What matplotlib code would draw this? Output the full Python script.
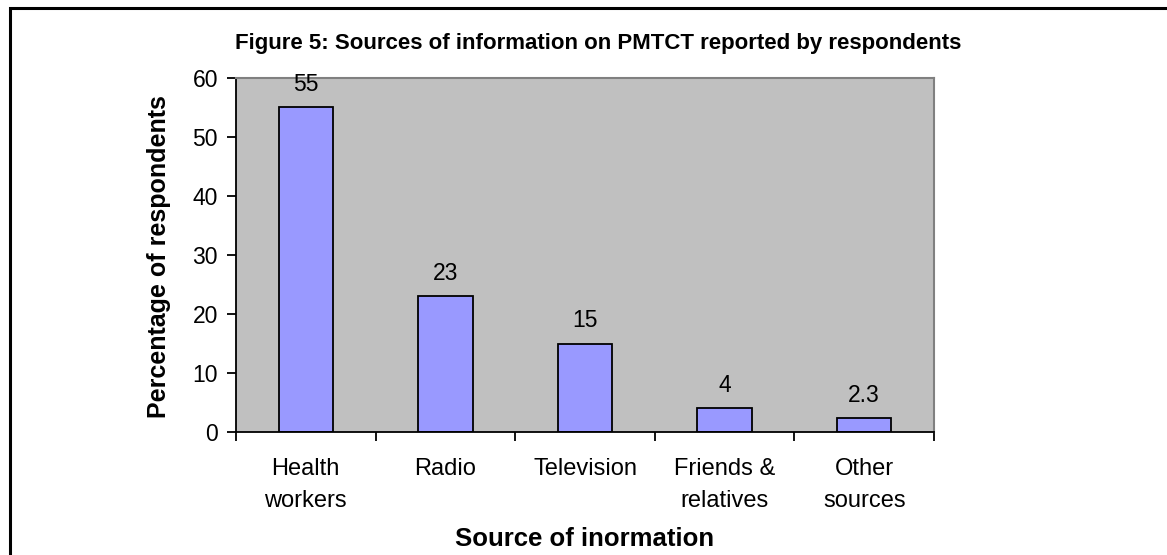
import matplotlib
matplotlib.use("Agg")
import matplotlib.pyplot as plt
from matplotlib.patches import Rectangle

plt.rcParams['font.family'] = ['Liberation Sans', 'DejaVu Sans']

categories = ["Health\nworkers", "Radio", "Television", "Friends &\nrelatives", "Other\nsources"]
values = [55, 23, 15, 4, 2.3]
value_labels = ["55", "23", "15", "4", "2.3"]
yticks = [0, 10, 20, 30, 40, 50, 60]

W, H = 1167, 555
fig = plt.figure(figsize=(W / 100, H / 100), dpi=100)
fig.patch.set_facecolor("white")

# outer frame (open on right and bottom)
fig.add_artist(Rectangle((9.5 / W, -0.2), 2.0, 1.2 - 7.5 / H, transform=fig.transFigure,
                         fill=False, edgecolor="black", linewidth=2.2))

ax = fig.add_axes([236 / W, (H - 432) / H, 698 / W, 354 / H])
ax.set_facecolor("#C0C0C0")

x = list(range(len(categories)))
ax.bar(x, values, width=0.39, color="#9999FF", edgecolor="black", linewidth=1.3, zorder=2)
for xi, v, lab in zip(x, values, value_labels):
    ax.annotate(lab, (xi, v), xytext=(0, 12), textcoords="offset points",
                ha="center", va="baseline", fontsize=16.5, clip_on=False, zorder=3)

ax.set_xlim(-0.5, len(categories) - 0.5)
ax.set_ylim(0, 60)
ax.set_yticks(yticks)
ax.set_yticklabels([str(t) for t in yticks], fontsize=16.5)

# category labels centred between boundary ticks
ax.set_xticks([i - 0.5 for i in range(len(categories) + 1)])
ax.set_xticklabels([""] * (len(categories) + 1))
ax.set_xticks(x, minor=True)
ax.set_xticklabels(categories, minor=True, fontsize=17, linespacing=1.55)
ax.tick_params(axis="x", which="major", direction="out", length=6.5, width=1.3, color="black")
ax.tick_params(axis="x", which="minor", length=0, pad=19)
ax.tick_params(axis="y", direction="out", length=6.5, width=1.3, color="black", pad=6.5)

for s in ("left", "bottom"):
    ax.spines[s].set_color("black")
    ax.spines[s].set_linewidth(1.3)
for s in ("top", "right"):
    ax.spines[s].set_color("#808080")
    ax.spines[s].set_linewidth(1.5)

fig.text(159 / W, 1 - 257 / H, "Percentage of respondents", rotation=90,
         ha="center", va="center", fontsize=18, fontweight="bold")
fig.text(585 / W, 1 - 546 / H, "Source of inormation",
         ha="center", va="baseline", fontsize=18.5, fontweight="bold")
fig.text(598 / W, 1 - 49 / H, "Figure 5: Sources of information on PMTCT reported by respondents",
         ha="center", va="baseline", fontsize=16, fontweight="bold")

fig.savefig("out.png", dpi=100)
